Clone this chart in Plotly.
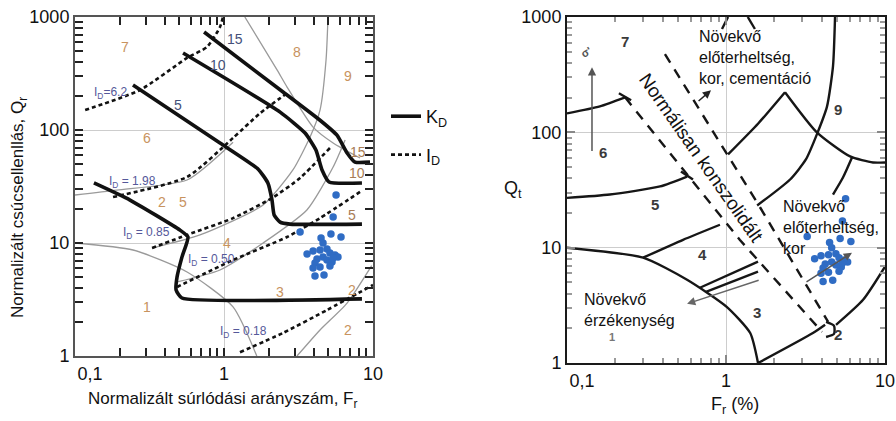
import math
import plotly.graph_objects as go

FONT = "Liberation Sans, Arial, Helvetica, sans-serif"
W, H = 896, 421

# ---------------- data: measured points (same set on both charts) ----------------
FR_PTS = [5.65, 5.40, 3.24, 6.10, 5.22, 4.48, 4.62, 3.61, 3.96, 4.41, 4.91, 5.14, 5.56,
          5.82, 4.62, 4.21, 4.91, 5.31, 4.08, 5.14, 3.96, 4.41, 4.08, 4.69, 5.40]
Q_PTS = [26.6, 17.0, 12.5, 11.3, 12.0, 11.1, 10.0, 8.0, 8.5, 8.67, 8.85, 8.16, 7.83,
         7.52, 7.52, 7.22, 7.07, 6.79, 6.65, 6.26, 6.01, 6.13, 5.10, 5.21, 7.36]

# ---------------- left chart: K_D contours ----------------
KD15_FR = [0.735, 2.49, 4.41, 5.73, 6.7, 7.57, 9.55]
KD15_Q = [737, 217, 122, 90, 62.6, 52, 52]
KD10_FR = [0.531, 2.38, 3.5, 4.14, 4.55, 5.07, 8.43]
KD10_Q = [480, 144, 94, 66.5, 44.3, 34.7, 34]
KD5_FR = [0.245, 0.94, 1.69, 1.97, 2.1, 2.17, 2.38, 2.77, 8.43]
KD5_Q = [250, 76.7, 45.2, 34, 24, 17.7, 15.3, 14.7, 14.7]
KD2_FR = [0.134, 0.234, 0.507, 0.573, 0.522, 0.484, 0.477, 0.522, 8.43]
KD2_Q = [34, 24, 13.0, 11.3, 7.5, 5.0, 3.84, 3.26, 3.2]

# ---------------- left chart: I_D contours ----------------
ID62_FR = [0.117, 0.273, 0.565, 0.769, 0.94, 0.984]
ID62_Q = [150, 226, 434, 543, 816, 1000]
ID198_FR = [0.18, 0.565, 1.15, 1.75, 2.65]
ID198_Q = [25.5, 38.4, 85, 141, 212]
ID085_FR = [0.329, 0.565, 1.15, 2.1, 3.24, 5.14]
ID085_Q = [9.03, 11.8, 16.6, 25, 37.6, 69.3]
ID050_FR = [0.484, 1.15, 2.65, 4.41, 8.18]
ID050_Q = [4.08, 7.07, 11.3, 16.6, 28.3]
ID018_FR = [1.28, 2.49, 4.91, 10]
ID018_Q = [1.08, 1.6, 2.55, 4.25]

# ---------------- left chart: grey zone boundaries ----------------
GZ1_FR = [0.1, 0.245, 0.565, 1.15, 1.66]
GZ1_Q = [10, 8.67, 5.54, 2.72, 1.0]
GZ2_FR = [9.8, 6.7, 4.41, 3.09]
GZ2_Q = [6.3, 2.94, 1.7, 1.0]
GZ3_FR = [0.329, 0.69, 1.83, 2.9, 3.78, 4.41, 4.84, 4.99]
GZ3_Q = [9.03, 11.8, 21.7, 44.3, 86.7, 150, 416, 1000]
GZ4_FR = [0.484, 0.94, 1.83, 3.6, 5.4, 6.5]
GZ4_Q = [4.52, 5.77, 10, 19.6, 47, 81.6]
GZ8_FR = [1.38, 2.27, 2.65, 3.96, 5.4, 8.18]
GZ8_Q = [1000, 340, 240, 106, 76.7, 56.5]
GZ5_FR = [0.1, 0.191, 0.565, 1.15]
GZ5_Q = [26.6, 29.4, 36.1, 78]

# ---------------- left chart labels ----------------
ZONE_L_TXT = ["7", "8", "9", "6", "2", "5", "4", "3", "2", "1", "2"]
ZONE_L_FR = [0.217, 3.09, 6.8, 0.304, 0.384, 0.531, 1.05, 2.38, 7.23, 0.304, 6.8]
ZONE_L_Q = [543, 490, 300, 85, 23.1, 23.1, 10, 3.68, 3.84, 2.72, 1.7]
KDLAB_TXT = ["15", "10", "5"]
KDLAB_FR = [1.19, 0.912, 0.491]
KDLAB_Q = [639, 376, 166]
KDEND_TXT = ["15", "10", "5"]
KDEND_FR = [7.92, 7.82, 7.23]
KDEND_Q = [63.9, 41.6, 17.7]
IDLAB_TXT = ["I<sub>D</sub>=6.2", "I<sub>D</sub> = 1.98", "I<sub>D</sub> = 0.85",
             "I<sub>D</sub> = 0.50", "I<sub>D</sub> = 0.18"]
IDLAB_FR = [0.172, 0.245, 0.3, 0.82, 1.36]
IDLAB_Q = [212, 34.7, 12.3, 7.07, 1.63]

# ---------------- right chart: solid boundaries ----------------
R1_FR = [0.1, 0.301, 0.569, 1.01, 1.42, 1.59]
R1_Q = [10, 8.19, 5.27, 3.07, 1.82, 1.0]
R2_FR = [1.59, 3.52, 4.2]
R2_Q = [1.0, 1.82, 2.15]
R2H_FR = [4.26, 4.78, 4.78, 4.26]
R2H_Q = [2.27, 2.1, 1.79, 1.68]
R2B_FR = [4.92, 7.28, 10]
R2B_Q = [2.14, 3.53, 6.84]
R3A_FR = [0.685, 1.59]
R3A_Q = [4.49, 7.56]
R3B_FR = [0.748, 1.59]
R3B_Q = [4.14, 6.19]
R4_FR = [0.301, 0.537, 0.916]
R4_Q = [8.19, 11.7, 15.8]
R5_FR = [0.1, 0.186, 0.385, 0.569]
R5_Q = [27, 28.9, 34, 41.4]
R5T_FR = [0.521, 0.62]
R5T_Q = [45.8, 39]
R6_FR = [0.1, 0.161, 0.232]
R6_Q = [146, 168, 201]
R6T_FR = [0.212, 0.253]
R6T_Q = [218, 190]
R8L_FR = [1.03, 1.6, 2.35]
R8L_Q = [64.4, 120, 223]
R8R_FR = [2.35, 3.73, 6.03, 8.41, 10]
R8R_Q = [223, 100, 61.8, 54.8, 54.8]
R9_FR = [4.85, 4.71, 4.32, 3.75, 3.18, 2.53, 1.57]
R9_Q = [1000, 375, 168, 98, 58.2, 39, 23.2]
R10_FR = [6.2, 5.44, 4.71]
R10_Q = [60.6, 40.6, 28.9]
ARCA_FR = [1.03, 0.944]
ARCA_Q = [1000, 787]
ARCB_FR = [1.37, 1.52]
ARCB_Q = [1000, 787]

# ---------------- right chart: dashed NC band ----------------
DLA_FR = [0.232, 1.22, 4.02]
DLA_Q = [201, 11.7, 1.86]
DLB_FR = [0.413, 1.64, 4.39]
DLB_Q = [477, 22.3, 2.27]

# ---------------- right chart labels ----------------
ZONE_R_TXT = ["7", "6", "5", "4", "3", "2", "9"]
ZONE_R_FR = [0.232, 0.168, 0.357, 0.716, 1.57, 5.06, 5.06]
ZONE_R_Q = [618, 67, 23.7, 8.69, 2.72, 1.75, 158]

# ---------------- axes ticks ----------------
X_TICKS = [0.1, 1, 10]
X_TICKTEXT = ["\u00a0\u00a0\u00a0\u00a0\u00a0\u00a00,1", "1", "10"]
Y_TICKS = [1, 10, 100, 1000]
Y_TICKTEXT = ["1", "10", "100", "1000"]
X_MINOR = [0.2, 0.3, 0.4, 0.5, 0.6, 0.7, 0.8, 0.9, 2, 3, 4, 5, 6, 7, 8, 9]
Y_MINOR = [2, 3, 4, 5, 6, 7, 8, 9, 20, 30, 40, 50, 60, 70, 80, 90,
           200, 300, 400, 500, 600, 700, 800, 900]

fig = go.Figure()

BLACK = "#111111"
GREY = "#9a9a9a"


def line(fr, q, xa, ya, color, width, dash="solid", shape="spline", name=None,
         legend=False, group=None, smoothing=0.6):
    fig.add_trace(go.Scatter(
        x=fr, y=q, xaxis=xa, yaxis=ya, mode="lines",
        line=dict(color=color, width=width, dash=dash, shape=shape, smoothing=smoothing),
        name=name, showlegend=legend, legendgroup=group, hoverinfo="skip"))


# left: grey boundaries
for fr, q in [(GZ1_FR, GZ1_Q), (GZ2_FR, GZ2_Q), (GZ3_FR, GZ3_Q), (GZ4_FR, GZ4_Q),
              (GZ8_FR, GZ8_Q), (GZ5_FR, GZ5_Q)]:
    line(fr, q, "x", "y", GREY, 1.3)

# left: K_D solid
line(KD15_FR, KD15_Q, "x", "y", BLACK, 3.6, name="K<sub>D</sub>", legend=True, group="kd",
     smoothing=0.5)
for fr, q in [(KD10_FR, KD10_Q), (KD5_FR, KD5_Q), (KD2_FR, KD2_Q)]:
    line(fr, q, "x", "y", BLACK, 3.6, group="kd", smoothing=0.5)

# left: I_D dashed
ID_DASH = "4px,3px"
line(ID62_FR, ID62_Q, "x", "y", BLACK, 2.6, dash=ID_DASH, name="I<sub>D</sub>", legend=True,
     group="id")
for fr, q in [(ID198_FR, ID198_Q), (ID085_FR, ID085_Q), (ID050_FR, ID050_Q), (ID018_FR, ID018_Q)]:
    line(fr, q, "x", "y", BLACK, 2.6, dash=ID_DASH, group="id")

# right: solid boundaries
RB = "#161616"
for fr, q in [(R1_FR, R1_Q), (R2_FR, R2_Q), (R2H_FR, R2H_Q), (R2B_FR, R2B_Q), (R3A_FR, R3A_Q),
              (R3B_FR, R3B_Q), (R4_FR, R4_Q), (R5_FR, R5_Q), (R5T_FR, R5T_Q), (R6_FR, R6_Q),
              (R6T_FR, R6T_Q), (R8L_FR, R8L_Q), (R8R_FR, R8R_Q), (R9_FR, R9_Q), (R10_FR, R10_Q),
              (ARCA_FR, ARCA_Q), (ARCB_FR, ARCB_Q)]:
    line(fr, q, "x2", "y2", RB, 2.4)

# right: dashed band
for fr, q in [(DLA_FR, DLA_Q), (DLB_FR, DLB_Q)]:
    line(fr, q, "x2", "y2", RB, 2.4, dash="10px,8px", shape="linear")

# points
PT_COLOR = "#2f6cc4"
for xa, ya in [("x", "y"), ("x2", "y2")]:
    fig.add_trace(go.Scatter(x=FR_PTS, y=Q_PTS, xaxis=xa, yaxis=ya, mode="markers",
                             marker=dict(color=PT_COLOR, size=7.5, line=dict(width=0)),
                             showlegend=False, hoverinfo="skip"))


def ann(x, y, text, xref, yref, size, color, **kw):
    fig.add_annotation(x=math.log10(x), y=math.log10(y), xref=xref, yref=yref, text=text,
                       showarrow=False, font=dict(family=FONT, size=size, color=color), **kw)


ZONE_COLOR = "#c8935e"
for t, fx, qy in zip(ZONE_L_TXT, ZONE_L_FR, ZONE_L_Q):
    ann(fx, qy, t, "x", "y", 14, ZONE_COLOR)
for t, fx, qy in zip(KDLAB_TXT, KDLAB_FR, KDLAB_Q):
    ann(fx, qy, t, "x", "y", 14, "#44507a")
for t, fx, qy in zip(KDEND_TXT, KDEND_FR, KDEND_Q):
    ann(fx, qy, t, "x", "y", 14, "#a87c55")
for t, fx, qy in zip(IDLAB_TXT, IDLAB_FR, IDLAB_Q):
    ann(fx, qy, t, "x", "y", 12, "#55589a")

for t, fx, qy in zip(ZONE_R_TXT, ZONE_R_FR, ZONE_R_Q):
    fig.add_annotation(x=math.log10(fx), y=math.log10(qy), xref="x2", yref="y2", text="<b>%s</b>" % t,
                       showarrow=False, font=dict(family=FONT, size=15, color="#3a3a3a"))
ann(0.192, 1.68, "<b>1</b>", "x2", "y2", 11, "#777777")

# right: "Normálisan konszolidált"
ann(0.697, 60.6, "Normálisan konszolidált", "x2", "y2", 19, "#111111", textangle=55)


# arrows on right chart
def arrow(x0, y0, x1, y1, color, width=1.5):
    fig.add_annotation(x=math.log10(x1), y=math.log10(y1), ax=math.log10(x0), ay=math.log10(y0),
                       xref="x2", yref="y2", axref="x2", ayref="y2", text="", showarrow=True,
                       arrowhead=2, arrowsize=1.1, arrowwidth=width, arrowcolor=color)


arrow(0.1436, 67, 0.1436, 367, "#555555")
arrow(0.658, 182, 0.805, 232, "#222222")
arrow(1.64, 5.27, 0.569, 3.26, "#666666")
arrow(3.14, 4.96, 6.2, 9.05, "#555555")
ann(0.132, 500, "<b>σ'</b>", "x2", "y2", 11, "#555555", textangle=-30)


# free texts (paper coordinates from pixel positions)
def ptext(px, py, text, size, xanchor="left", yanchor="middle", align="left", angle=0):
    fig.add_annotation(x=px / W, y=1 - py / H, xref="paper", yref="paper", text=text,
                       showarrow=False, xanchor=xanchor, yanchor=yanchor, align=align,
                       textangle=angle, font=dict(family=FONT, size=size, color="#111111"))


ptext(697, 57, "Növekvő<br>előterheltség,<br>kor, cementáció", 16)
ptext(781, 227, "Növekvő<br>előterheltség,<br>kor", 16)
ptext(582, 310, "Növekvő<br>érzékenység", 16)

# axis titles
ptext(19, 208, "Normalizált csúcsellenllás, Q<sub>r</sub>", 17, xanchor="center", angle=-90, align="center")
ptext(222, 400, "Normalizált súrlódási arányszám, F<sub>r</sub>", 17, xanchor="center", align="center")
ptext(513, 190, "Q<sub>t</sub>", 18, xanchor="center", align="center")
ptext(735, 405, "F<sub>r</sub> (%)", 18, xanchor="center", align="center")


def xaxis(domain, anchor, frame, tickc, minor_c, minor_len):
    return dict(type="log", range=[-1, 1], domain=domain, anchor=anchor, automargin=False,
                tickmode="array", tickvals=X_TICKS, ticktext=X_TICKTEXT,
                ticks="inside", ticklen=8, tickwidth=2, tickcolor=tickc,
                showline=True, linecolor=frame, linewidth=2, mirror="allticks",
                showgrid=True, gridcolor="#cdcdcd", gridwidth=1, zeroline=False,
                tickfont=dict(family=FONT, size=18, color="#111111"),
                minor=dict(tickmode="array", tickvals=X_MINOR, ticks="inside",
                           ticklen=minor_len, tickwidth=2, tickcolor=minor_c, showgrid=False))


def yaxis(domain, anchor, frame, tickc, minor_c, minor_len):
    return dict(type="log", range=[0, 3], domain=domain, anchor=anchor, automargin=False,
                tickmode="array", tickvals=Y_TICKS, ticktext=Y_TICKTEXT,
                ticks="inside", ticklen=8, tickwidth=2, tickcolor=tickc,
                showline=True, linecolor=frame, linewidth=2, mirror="allticks",
                showgrid=True, gridcolor="#cdcdcd", gridwidth=1, zeroline=False,
                tickfont=dict(family=FONT, size=18, color="#111111"),
                minor=dict(tickmode="array", tickvals=Y_MINOR, ticks="inside",
                           ticklen=minor_len, tickwidth=2, tickcolor=minor_c, showgrid=False))


fig.update_layout(
    width=W, height=H, autosize=False,
    margin=dict(l=0, r=0, t=0, b=0, autoexpand=False),
    paper_bgcolor="white", plot_bgcolor="white",
    font=dict(family=FONT, color="#111111"),
    xaxis=xaxis([75 / W, 373 / W], "y", "#555555", "#222222", "#222222", 8),
    yaxis=yaxis([1 - 356 / H, 1 - 17 / H], "x", "#555555", "#222222", "#222222", 8),
    xaxis2=xaxis([567 / W, 885 / W], "y2", "#1a1a1a", "#888888", "#9a9a9a", 5),
    yaxis2=yaxis([1 - 363 / H, 1 - 17 / H], "x2", "#1a1a1a", "#888888", "#9a9a9a", 5),
    legend=dict(x=386 / W, y=1 - 98 / H, xanchor="left", yanchor="top",
                font=dict(family=FONT, size=18, color="#111111"),
                bgcolor="rgba(0,0,0,0)", traceorder="grouped", tracegroupgap=12,
                itemwidth=30),
)

fig.write_html("out.html")
